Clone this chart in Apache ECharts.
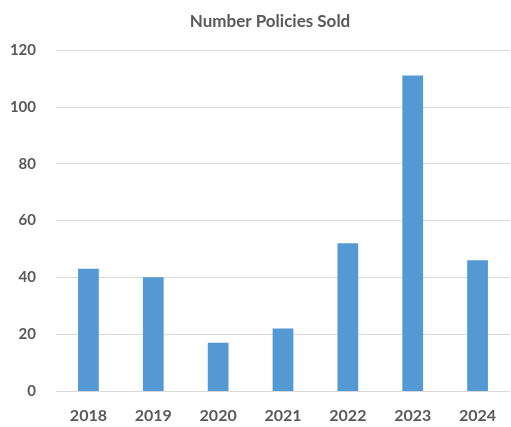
<!DOCTYPE html>
<html>
<head>
<meta charset="utf-8">
<script src="https://cdn.jsdelivr.net/npm/echarts@6/dist/echarts.min.js"></script>
<style>
  html, body { margin: 0; padding: 0; background: #fff; }
  #main { width: 511px; height: 427px; }
</style>
</head>
<body>
<div id="main"></div>
<script>
var years = ['2018', '2019', '2020', '2021', '2022', '2023', '2024']
var policiesSold = [43, 40, 17, 22, 52, 111, 46]

var myChart = echarts.init(document.getElementById('main'))
var option

option = {
  title: {
    text: 'Number Policies Sold',
    left: 265,
    top: 8,
    textAlign: 'center',
    textStyle: { fontFamily: 'Lato', fontSize: 17, fontWeight: 'bold', color: '#595959' }
  },
  grid: {
    left: 56,
    right: 1,
    top: 50,
    bottom: 36
  },
  xAxis: {
    type: 'category',
    data: years,
    axisLine: { lineStyle: { color: '#d9d9d9', width: 1 } },
    axisTick: { show: false },
    axisLabel: {
      margin: 17,
      fontFamily: 'Lato',
      fontSize: 16,
      fontWeight: 'bold',
      color: '#595959'
    }
  },
  yAxis: {
    type: 'value',
    min: 0,
    max: 120,
    interval: 20,
    axisLine: { show: false },
    axisTick: { show: false },
    splitLine: { lineStyle: { color: '#d9d9d9', width: 1 } },
    axisLabel: {
      margin: 20,
      fontFamily: 'Lato',
      fontSize: 15,
      fontWeight: 'bold',
      color: '#595959'
    }
  },
  series: [
    {
      name: 'Policies',
      type: 'bar',
      barWidth: '32%',
      data: policiesSold,
      itemStyle: { color: '#5499d4' }
    }
  ]
}

option && myChart.setOption(option)
</script>
</body>
</html>
